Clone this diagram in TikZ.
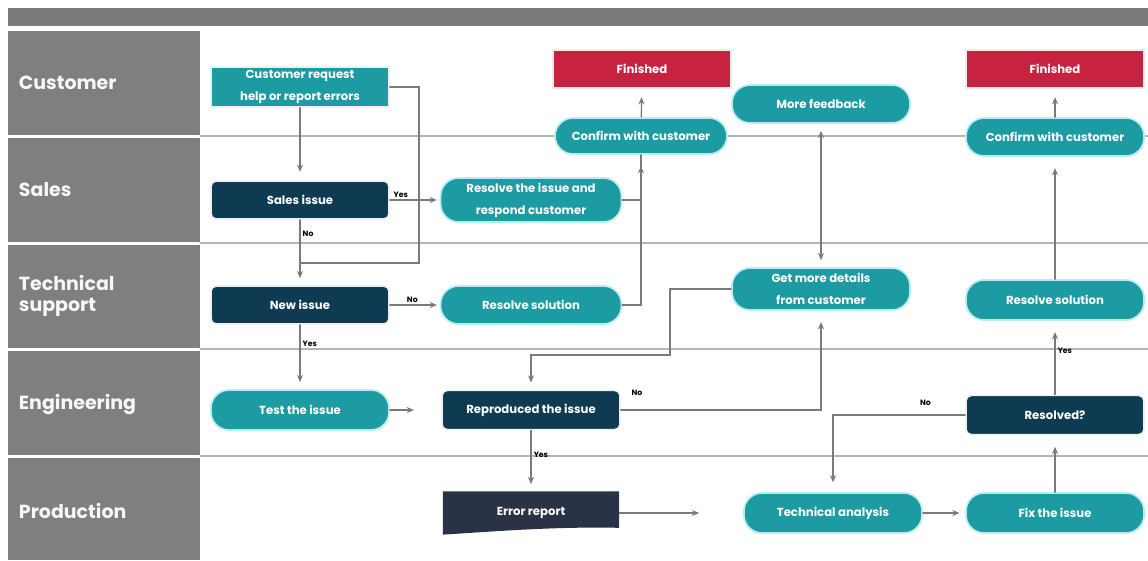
\documentclass[tikz,border=0pt]{standalone}
\usepackage{fontspec}
\setmainfont{Poppins}
\setsansfont{Poppins}
\usetikzlibrary{arrows.meta}
\definecolor{barGray}{HTML}{7A7A7A}
\definecolor{laneGray}{HTML}{7F7F7F}
\definecolor{laneLine}{HTML}{B4B4B4}
\definecolor{tealBox}{HTML}{1C9BA3}
\definecolor{navyBox}{HTML}{0E3B52}
\definecolor{redBox}{HTML}{C7223F}
\definecolor{slateBox}{HTML}{2A3345}
\definecolor{glow}{HTML}{B8ECEF}
\definecolor{flowGray}{HTML}{7A7A7A}

\begin{document}
\begin{tikzpicture}[x=0.025cm,y=-0.025cm,>={Stealth[length=1.8mm,width=1.5mm]},
  font=\sffamily\bfseries\fontsize{8.3}{15.5}\selectfont,line cap=round,
  box/.style={text=white,align=center,inner sep=1pt,minimum width=4.45cm,minimum height=1cm},
  pill/.style={box,fill=tealBox,draw=glow,line width=1.2pt,rounded corners=0.45cm},
  darkbox/.style={box,fill=navyBox,draw=gray!12,line width=1.2pt,rounded corners=0.13cm},
  redbox/.style={box,fill=redBox,draw=gray!15,line width=1pt},
  reqbox/.style={box,fill=tealBox,draw=gray!12,line width=1pt},
  docbox/.style={box,minimum height=1.08cm,path picture={
    \fill[slateBox] (path picture bounding box.north west) -- (path picture bounding box.north east)
      -- ([yshift=0.17cm]path picture bounding box.south east)
      .. controls ([xshift=-1.6cm,yshift=0.2cm]path picture bounding box.south east)
      and ([xshift=1.6cm,yshift=0.1cm]path picture bounding box.south west) .. (path picture bounding box.south west) -- cycle;}},
  lanelbl/.style={anchor=west,text=white!94!gray,align=left,font=\sffamily\bfseries\fontsize{13.5}{15.5}\selectfont},
  lbl/.style={text=black,inner sep=1.5pt,font=\sffamily\bfseries\fontsize{5.5}{6}\selectfont},
  flow/.style={->,draw=flowGray,line width=0.9pt,shorten >=2pt},
  link/.style={draw=flowGray,line width=0.9pt}]
\useasboundingbox (0,0) rectangle (1148,560);
\fill[white] (0,0) rectangle (1148,560);

% header bar and lane column
\fill[barGray] (8,8) rectangle (1148,26);
\foreach \ytop/\ybot/\ymid/\name [count=\i] in {31/135/83/Customer,138/242/190/Sales,245/348/296/{Technical\\support},351/455/404/Engineering,458/560/511/Production}{
  \fill[laneGray] (8,\ytop) rectangle (200,\ybot);
  \node[lanelbl] (lane\i) at (14,\ymid) {\name};
}
\foreach \y in {136,243,349,456}
  \draw[laneLine,line width=0.9pt] (200,\y) -- (1148,\y);

% nodes
\node[reqbox] (req) at (300,87) {Customer request\\help or report errors};
\node[darkbox,minimum height=0.95cm] (sales) at (300,200) {Sales issue};
\node[darkbox,minimum height=0.95cm] (newi) at (300,305) {New issue};
\node[pill] (test) at (300,410) {Test the issue};
\node[pill,minimum width=4.52cm,minimum height=1.1cm] (resolve1) at (531,200) {Resolve the issue and\\respond customer};
\node[pill,minimum width=4.52cm,minimum height=0.95cm] (resolve2) at (531,305) {Resolve solution};
\node[darkbox,minimum height=0.98cm] (repro) at (531,410) {Reproduced the issue};
\node[docbox,minimum width=4.4cm] (err) at (531,513) {Error report};
\node[redbox,minimum height=0.95cm] (fin1) at (642,69) {Finished};
\node[pill,minimum width=4.3cm,minimum height=0.9cm] (conf1) at (641,136) {Confirm with customer};
\node[pill,minimum height=0.95cm] (more) at (821,104) {More feedback};
\node[pill,minimum height=1.05cm] (getmore) at (821,289) {Get more details\\from customer};
\node[redbox,minimum height=0.95cm] (fin2) at (1055,69) {Finished};
\node[pill,minimum height=0.95cm] (conf2) at (1055,137) {Confirm with customer};
\node[pill] (resolve3) at (1055,300) {Resolve solution};
\node[darkbox,minimum height=0.98cm] (resolved) at (1055,415) {Resolved?};
\node[pill] (tech) at (833,513) {Technical analysis};
\node[pill] (fix) at (1055,513) {Fix the issue};

% connectors
\coordinate (j1) at (419,263);
\coordinate (k1) at (670,355);
\draw[flow,shorten >=6pt] (req) -- (sales);
\draw[link] (req.east) -| (j1) -- (j1 -| sales);
\draw[flow,shorten >=5pt] (sales) -- node[lbl,right,pos=0.22]{No} (newi);
\draw[flow] (sales) -- node[lbl,above,pos=0.22]{Yes} (resolve1);
\draw[flow,shorten >=8pt] (resolve1.east) -| (conf1.south);
\draw[link] (resolve2.east) -| (conf1.south);
\draw[flow,shorten >=6pt] (conf1) -- (fin1);
\draw[flow] (newi) -- node[lbl,above,pos=0.45]{No} (resolve2);
\draw[flow,shorten >=5pt] (newi) -- node[lbl,right,pos=0.3]{Yes} (test);
\draw[flow,shorten >=0.68cm] (test) -- (repro);
\draw[flow,shorten >=5pt] (getmore.west) -| (k1) -| (repro.north);
\draw[flow,shorten >=8pt] (repro.east) -| node[lbl,pos=0.04,above=8pt]{No} (getmore.south);
\draw[flow,<->,shorten <=5pt,shorten >=5pt] (more) -- (getmore);
\draw[flow,shorten >=5pt] (repro) -- node[lbl,right,pos=0.4]{Yes} (err);
\draw[flow,shorten >=1.1cm] (err) -- (tech);
\draw[flow,shorten >=4pt] (tech) -- (fix);
\draw[flow,shorten >=8pt] (fix) -- (resolved);
\draw[flow,shorten >=7pt] (resolved.west) -| node[lbl,pos=0.15,above=5pt]{No} (tech.north);
\draw[flow,shorten >=8pt] (resolved) -- node[lbl,right,pos=0.6]{Yes} (resolve3);
\draw[flow,shorten >=8pt] (resolve3) -- (conf2);
\draw[flow,shorten >=6pt] (conf2) -- (fin2);
\end{tikzpicture}
\end{document}
